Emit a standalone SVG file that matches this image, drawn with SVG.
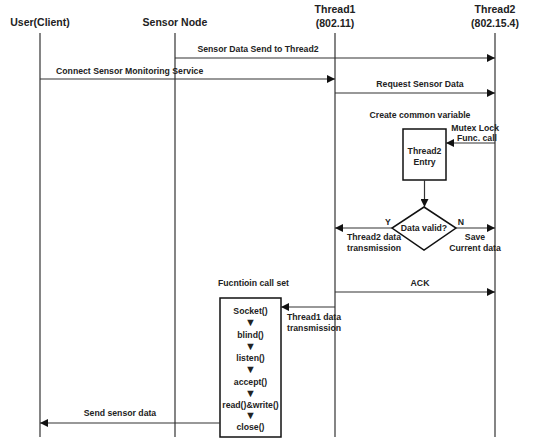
<svg xmlns="http://www.w3.org/2000/svg" width="533" height="440" viewBox="0 0 533 440">
<style>
.t{font-family:"Liberation Sans",Arial,sans-serif;font-weight:bold;fill:#222;}
.h{font-size:10.5px;text-anchor:middle;}
.s{font-size:8.7px;}
.m{text-anchor:middle;}
.e{text-anchor:end;}
.v{font-size:11px;}
.l{stroke:#333;stroke-width:1.2;fill:none;}
.b{stroke:#111;stroke-width:1.5;fill:#fff;}
</style>
<defs>
<marker id="a" viewBox="0 0 10 10" refX="10" refY="5" markerWidth="8" markerHeight="8" markerUnits="userSpaceOnUse" orient="auto"><path d="M0,0 L10,5 L0,10 z" fill="#111"/></marker>
</defs>
<g id="lifelines">
<g id="user"><text class="t h" x="40" y="26">User(Client)</text><line class="l" x1="40" y1="33" x2="40" y2="437"/></g>
<g id="sensor"><text class="t h" x="175" y="26">Sensor Node</text><line class="l" x1="175" y1="33" x2="175" y2="437"/></g>
<g id="thread1"><text class="t h" x="335" y="13">Thread1</text><text class="t h" x="335" y="27">(802.11)</text><line class="l" x1="335" y1="33" x2="335" y2="437"/></g>
<g id="thread2"><text class="t h" x="495" y="13">Thread2</text><text class="t h" x="495" y="27">(802.15.4)</text><line class="l" x1="495" y1="33" x2="495" y2="437"/></g>
</g>
<g id="entry"><rect class="b" x="403" y="129" width="43" height="51"/><text class="t s m" x="424.5" y="154">Thread2</text><text class="t s m" x="424.5" y="165">Entry</text></g>
<g id="decision"><path class="b" d="M424,207 L456,228 L424,250 L392,228 z"/><text class="t s m" x="424" y="231">Data valid?</text></g>
<g id="funcs"><rect class="b" x="220" y="298" width="61" height="139"/>
<text class="t s m" x="250.5" y="314">Socket()</text><text class="t v m" x="250.5" y="326">▼</text>
<text class="t s m" x="250.5" y="338">blind()</text><text class="t v m" x="250.5" y="350">▼</text>
<text class="t s m" x="250.5" y="361">listen()</text><text class="t v m" x="250.5" y="373">▼</text>
<text class="t s m" x="250.5" y="385">accept()</text><text class="t v m" x="250.5" y="397">▼</text>
<text class="t s m" x="250.5" y="408">read()&amp;write()</text><text class="t v m" x="250.5" y="419">▼</text>
<text class="t s m" x="250.5" y="430">close()</text></g>
<g id="connectors">
<line class="l" x1="175" y1="58" x2="495" y2="58" marker-end="url(#a)"/>
<line class="l" x1="40" y1="79" x2="335" y2="79" marker-end="url(#a)"/>
<line class="l" x1="335" y1="93" x2="495" y2="93" marker-end="url(#a)"/>
<line class="l" x1="495" y1="143" x2="446" y2="143" marker-end="url(#a)"/>
<line class="l" x1="424.5" y1="180" x2="424.5" y2="207" marker-end="url(#a)"/>
<line class="l" x1="392" y1="228" x2="335" y2="228" marker-end="url(#a)"/>
<line class="l" x1="456" y1="228" x2="495" y2="228" marker-end="url(#a)"/>
<line class="l" x1="335" y1="292" x2="495" y2="292" marker-end="url(#a)"/>
<line class="l" x1="335" y1="307" x2="281" y2="307" marker-end="url(#a)"/>
<line class="l" x1="220" y1="423" x2="40" y2="423" marker-end="url(#a)"/>
</g>
<g id="labels">
<text class="t s m" x="258" y="52">Sensor Data Send to Thread2</text>
<text class="t s" x="56" y="74">Connect Sensor Monitoring Service</text>
<text class="t s m" x="420" y="87">Request Sensor Data</text>
<text class="t s m" x="420" y="118">Create common variable</text>
<text class="t s e" x="499" y="131">Mutex Lock</text>
<text class="t s e" x="497" y="141">Func. call</text>
<text class="t s m" x="388" y="225">Y</text>
<text class="t s m" x="461" y="225">N</text>
<text class="t s" x="347" y="240">Thread2 data</text>
<text class="t s" x="347" y="251">transmission</text>
<text class="t s m" x="475" y="240">Save</text>
<text class="t s m" x="475" y="251">Current data</text>
<text class="t s m" x="420" y="286">ACK</text>
<text class="t s" x="218" y="286">Fucntioin call set</text>
<text class="t s" x="287" y="320">Thread1 data</text>
<text class="t s" x="287" y="331">transmission</text>
<text class="t s m" x="120" y="416">Send sensor data</text>
</g>
</svg>
